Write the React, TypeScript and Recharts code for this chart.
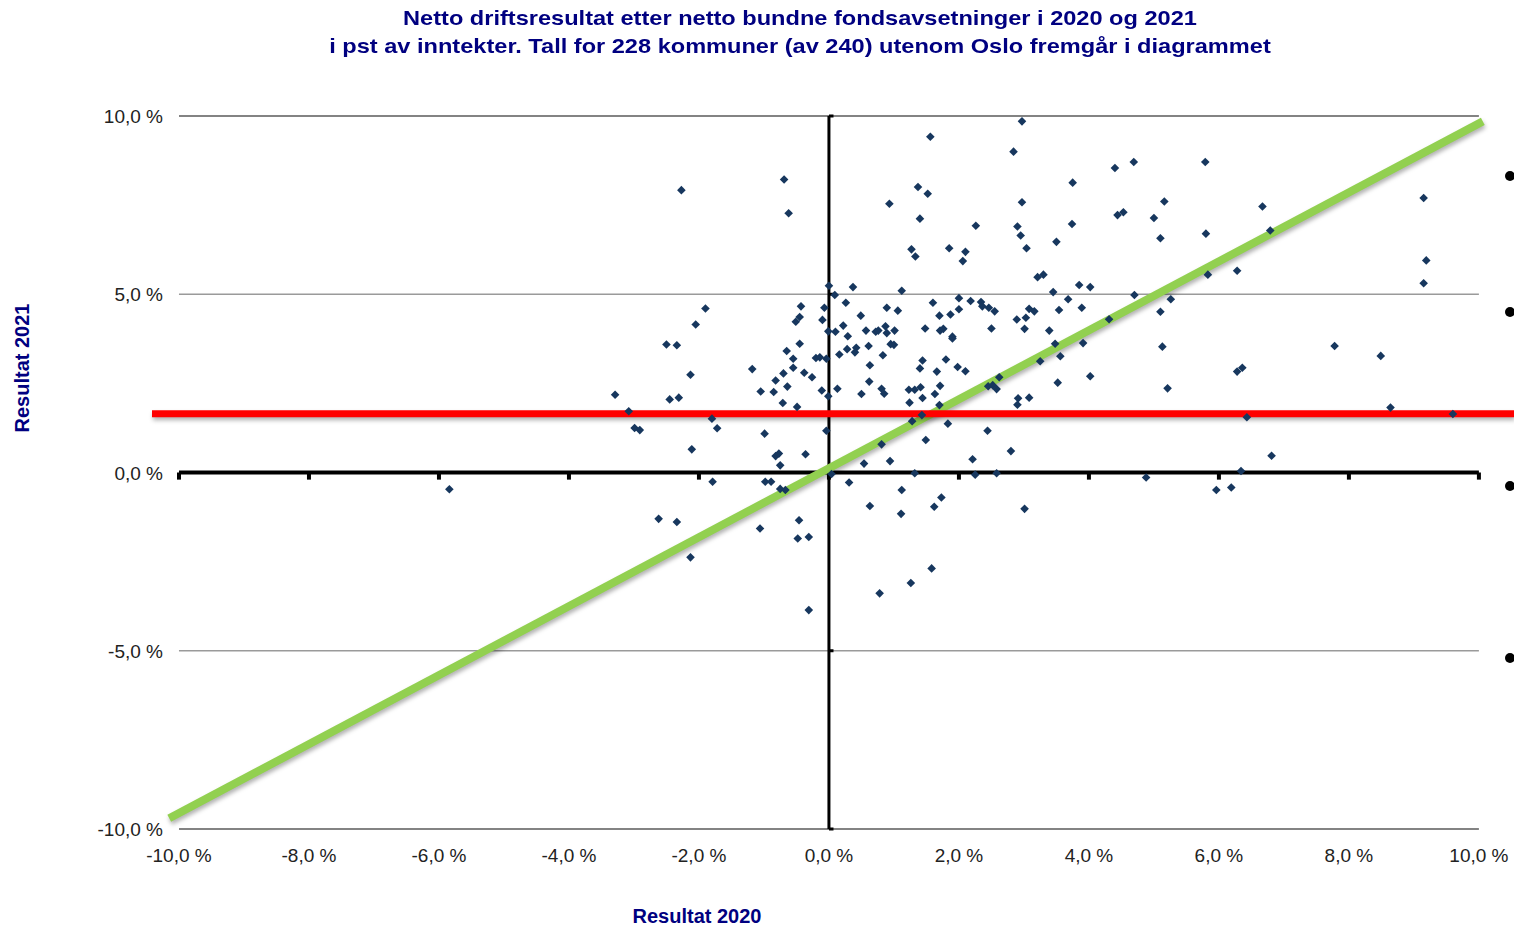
import { ScatterChart, Scatter, XAxis, YAxis, ReferenceLine } from 'recharts'

// Netto driftsresultat i pst av inntekter, én verdi per kommune (samme rekkefølge i begge lister)
const resultat2020 = [
  -2.27, -0.69, -0.62, 0.0, -1.9, -2.05, -2.5, -2.34, -2.13, -3.29, -2.45, -2.31, -3.08, -2.99, -2.91, -1.8,
  -1.72, -2.11, -0.99, -0.43, -0.45, -0.51, -0.07, -0.1, -0.01, -0.45, -0.65, -0.55, -0.2, -0.14, -0.04, -1.18,
  -0.55, -0.7, -0.38, -0.26, -0.82, -0.64, -1.05, -0.85, -0.11, -0.01, -0.71, -0.49, -0.04, -0.82, -0.77, -0.75,
  -0.36, 2.97, 1.56, 2.84, 3.75, 0.93, 1.37, 1.52, 1.4, 2.97, 2.26, 2.9, 2.95, 3.74, 3.5, 3.04,
  1.27, 1.33, 1.85, 2.1, 2.06, 3.21, 3.3, 3.45, 3.68, 0.37, 1.12, 0.09, 0.26, 0.89, 1.06, 0.49,
  1.6, 1.7, 1.87, 2.0, 2.0, 2.18, 2.34, 2.36, 2.46, 2.55, 2.89, 3.03, 3.08, 3.16, 3.54, 3.01,
  3.39, 3.48, 3.56, 3.25, 3.52, 2.62, 2.45, 2.52, 2.58, 2.91, 2.9, 3.08, 0.1, 0.22, 0.29, 0.16,
  0.28, 0.42, 0.4, 0.57, 0.72, 0.76, 0.87, 0.89, 1.01, 0.95, 1.0, 0.61, 0.83, 0.63, 0.62, 0.5,
  0.81, 0.85, 0.13, 1.48, 1.71, 1.76, 1.9, 1.9, 2.5, 1.44, 1.4, 1.8, 1.66, 1.98, 2.1, 1.23,
  1.32, 1.41, 1.71, 1.63, 1.44, 1.24, 1.7, 1.43, 1.28, 1.83, 2.44, 1.49, 0.81, 0.54, 0.94, 2.21,
  2.8, 0.04, 1.32, 2.25, 2.58, 4.4, 4.69, 5.79, 4.44, 4.53, 5.0, 5.16, 5.1, 5.8, 6.67, 6.79,
  6.28, 5.83, 3.85, 4.02, 3.89, 4.7, 5.26, 5.1, 4.31, 3.91, 5.13, 4.02, 6.28, 6.36, 5.21, 6.43,
  6.81, 6.34, 4.88, 9.15, 9.19, 9.15, 7.78, 8.49, 8.64, 9.6, -5.84, -2.62, -2.34, -2.13, -1.79, -0.98,
  -0.89, -0.75, -0.67, -1.06, -0.46, -0.48, -0.31, -0.31, 0.31, 1.12, 0.63, 1.11, 1.73, 1.62, 3.01, 5.96,
  6.19, 1.58, 1.26, 0.78,
]

const resultat2021 = [
  7.92, 8.22, 7.27, 5.24, 4.6, 4.15, 3.59, 3.57, 2.74, 2.18, 2.05, 2.1, 1.72, 1.25, 1.19, 1.51,
  1.24, 0.65, 1.09, 4.66, 4.36, 4.23, 4.62, 4.28, 3.96, 3.61, 3.41, 3.19, 3.21, 3.23, 3.19, 2.9,
  2.94, 2.78, 2.8, 2.67, 2.58, 2.41, 2.27, 2.26, 2.3, 2.14, 1.95, 1.84, 1.17, 0.46, 0.53, 0.2,
  0.51, 9.85, 9.42, 9.0, 8.13, 7.54, 8.01, 7.82, 7.12, 7.58, 6.92, 6.9, 6.65, 6.97, 6.47, 6.29,
  6.26, 6.06, 6.29, 6.19, 5.93, 5.48, 5.55, 5.06, 4.86, 5.2, 5.1, 4.98, 4.76, 4.62, 4.54, 4.4,
  4.76, 4.4, 4.43, 4.89, 4.58, 4.81, 4.78, 4.66, 4.62, 4.52, 4.29, 4.34, 4.59, 4.52, 4.56, 4.03,
  3.98, 3.61, 3.26, 3.12, 2.52, 2.67, 2.42, 2.45, 2.34, 2.08, 1.9, 2.1, 3.95, 4.12, 3.82, 3.31,
  3.46, 3.5, 3.37, 3.98, 3.95, 3.98, 4.1, 3.91, 3.98, 3.6, 3.58, 3.55, 3.29, 3.01, 2.55, 2.2,
  2.35, 2.21, 2.35, 4.04, 3.98, 4.03, 3.81, 3.76, 4.04, 3.14, 2.92, 3.17, 2.83, 2.96, 2.84, 2.32,
  2.32, 2.39, 2.43, 2.2, 2.09, 1.96, 1.89, 1.61, 1.44, 1.37, 1.17, 0.91, 0.79, 0.25, 0.32, 0.37,
  0.6, -0.04, -0.02, -0.06, -0.02, 8.54, 8.71, 8.71, 7.22, 7.3, 7.14, 7.6, 6.57, 6.7, 7.46, 6.79,
  5.66, 5.55, 5.26, 5.2, 4.62, 4.98, 4.86, 4.51, 4.3, 3.63, 3.53, 2.7, 2.83, 2.94, 2.36, 1.55,
  0.47, 0.04, -0.14, 7.7, 5.95, 5.31, 3.55, 3.27, 1.82, 1.64, -0.47, -1.3, -1.39, -2.38, -0.26, -0.26,
  -0.26, -0.46, -0.49, -1.57, -1.34, -1.85, -1.81, -3.86, -0.28, -0.49, -0.94, -1.16, -0.7, -0.96, -1.02, -0.49,
  -0.42, -2.69, -3.1, -3.39,
]

const xTicks = [-10, -8, -6, -4, -2, 0, 2, 4, 6, 8, 10]
const yTicks = [-10, -5, 0, 5, 10]
const gridLevels = [10, 5, -5, -10]
const gjennomsnitt2021 = 1.65
const diagonal = [{ x: -10.15, y: -9.7 }, { x: 10.06, y: 9.85 }]
const bullets = [176, 312, 486, 658]

const points = resultat2020.map((x, i) => ({ x, y: resultat2021[i] }))

const NAVY = '#000080'
const pct = (v: number) => `${v.toFixed(1).replace('.', ',')} %`

const Diamond = (p: any) => {
  const r = 4.3
  return <path d={`M${p.cx},${p.cy - r}L${p.cx + r},${p.cy}L${p.cx},${p.cy + r}L${p.cx - r},${p.cy}Z`} fill="#17375E" />
}

const YTick = (p: any) => (
  <text x={p.x + 11} y={p.y + 7} textAnchor="end" fontSize={19} fill="#222">{pct(p.payload.value)}</text>
)

const XTick = (p: any) => (
  <text x={p.x} y={p.y + 33} textAnchor="middle" fontSize={19} fill="#222">{pct(p.payload.value)}</text>
)

export default function App() {
  return (
    <div style={{ position: 'absolute', left: 0, top: 0, width: 1514, height: 927, background: '#fff', overflow: 'hidden', fontFamily: '"Liberation Sans", Arial, sans-serif' }}>
      <style>{`.skygge line { filter: drop-shadow(1px 3px 2px rgba(0,0,0,0.3)); }`}</style>

      <div style={{ position: 'absolute', top: 4, left: 0, width: 1600, textAlign: 'center', color: NAVY, fontWeight: 'bold', fontSize: 20.5, lineHeight: '28px', transform: 'scaleX(1.15)', transformOrigin: '800px 0' }}>
        Netto driftsresultat etter netto bundne fondsavsetninger i 2020 og 2021<br />
        i pst av inntekter. Tall for 228 kommuner (av 240) utenom Oslo fremgår i diagrammet
      </div>

      <ScatterChart width={1514} height={927} margin={{ top: 116, right: 0, bottom: 58, left: 0 }}>
        <XAxis type="number" dataKey="x" domain={[-10.415, 10.54]} ticks={xTicks} allowDataOverflow
          axisLine={false} tickLine={false} tickSize={0} tickMargin={0} height={40} tick={<XTick />} />
        <YAxis type="number" dataKey="y" domain={[-10, 10]} ticks={yTicks} allowDataOverflow
          axisLine={false} tickLine={false} tickSize={0} tickMargin={0} width={152} tick={<YTick />} />

        {gridLevels.map(v => (
          <ReferenceLine key={v} segment={[{ x: -10, y: v }, { x: 10, y: v }]} stroke={Math.abs(v) === 10 ? '#5a5a5a' : '#9a9a9a'} strokeWidth={1.3} />
        ))}
        <ReferenceLine x={0} stroke="#000" strokeWidth={3} />
        {yTicks.filter(v => v !== 0).map(v => (
          <ReferenceLine key={'yt' + v} segment={[{ x: 0, y: v }, { x: 0.07, y: v }]} stroke="#000" strokeWidth={3} />
        ))}
        <ReferenceLine segment={[{ x: -10, y: 0 }, { x: 10, y: 0 }]} stroke="#000" strokeWidth={4} />
        {xTicks.map(v => (
          <ReferenceLine key={'xt' + v} segment={[{ x: v, y: 0 }, { x: v, y: -0.2 }]} stroke="#000" strokeWidth={4} />
        ))}

        <ReferenceLine className="skygge" segment={diagonal} stroke="#92D050" strokeWidth={8} />
        <ReferenceLine className="skygge" y={gjennomsnitt2021} stroke="#FF0000" strokeWidth={7} />

        <Scatter data={points} shape={<Diamond />} isAnimationActive={false} />
      </ScatterChart>

      <div style={{ position: 'absolute', left: 22, top: 368, transform: 'translate(-50%, -50%) rotate(-90deg)', color: NAVY, fontWeight: 'bold', fontSize: 20, whiteSpace: 'nowrap' }}>
        Resultat 2021
      </div>
      <div style={{ position: 'absolute', left: 697, top: 916, transform: 'translate(-50%, -50%)', color: NAVY, fontWeight: 'bold', fontSize: 20, whiteSpace: 'nowrap' }}>
        Resultat 2020
      </div>

      {bullets.map(t => (
        <div key={t} style={{ position: 'absolute', left: 1505, top: t - 5, width: 10, height: 10, borderRadius: 5, background: '#000' }} />
      ))}
    </div>
  )
}
